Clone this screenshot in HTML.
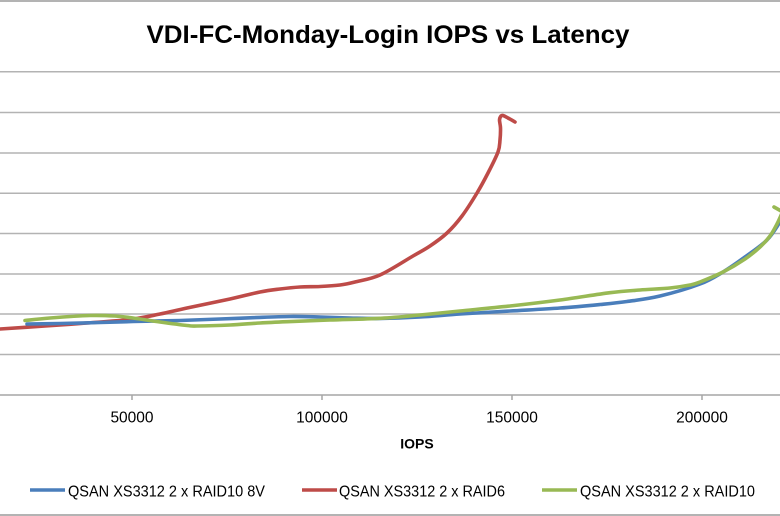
<!DOCTYPE html>
<html>
<head>
<meta charset="utf-8">
<style>
html,body{margin:0;padding:0;background:#fff;}
svg{display:block;}
text{font-family:"Liberation Sans",Arial,sans-serif;}
</style>
</head>
<body>
<svg id="chart" width="780" height="516" viewBox="0 0 780 516" xmlns="http://www.w3.org/2000/svg">
  <rect x="0" y="0" width="780" height="516" fill="#ffffff"/>
  <line x1="0" y1="1" x2="780" y2="1" stroke="#9a9a9a" stroke-width="1.5"/>
  <line x1="0" y1="515" x2="780" y2="515" stroke="#9a9a9a" stroke-width="1.5"/>

  <text x="388" y="43" font-size="25" font-weight="bold" text-anchor="middle" textLength="483" lengthAdjust="spacingAndGlyphs" fill="#000">VDI-FC-Monday-Login IOPS vs Latency</text>

  <g stroke="#b3b3b3" stroke-width="1.5">
    <line x1="0" y1="71.8" x2="780" y2="71.8"/>
    <line x1="0" y1="112.5" x2="780" y2="112.5"/>
    <line x1="0" y1="153" x2="780" y2="153"/>
    <line x1="0" y1="193.3" x2="780" y2="193.3"/>
    <line x1="0" y1="233.5" x2="780" y2="233.5"/>
    <line x1="0" y1="274" x2="780" y2="274"/>
    <line x1="0" y1="314" x2="780" y2="314"/>
    <line x1="0" y1="354.5" x2="780" y2="354.5"/>
  </g>
  <line x1="0" y1="395" x2="780" y2="395" stroke="#a6a6a6" stroke-width="1.5"/>
  <g stroke="#a6a6a6" stroke-width="1.5">
    <line x1="132" y1="395" x2="132" y2="400"/>
    <line x1="322" y1="395" x2="322" y2="400"/>
    <line x1="512" y1="395" x2="512" y2="400"/>
    <line x1="702" y1="395" x2="702" y2="400"/>
  </g>
  <g font-size="15.5" fill="#000" text-anchor="middle">
    <text x="132" y="422.7">50000</text>
    <text x="322" y="422.7">100000</text>
    <text x="512" y="422.7">150000</text>
    <text x="702" y="422.7">200000</text>
  </g>
  <text x="417" y="448.5" font-size="14" font-weight="bold" text-anchor="middle" fill="#000">IOPS</text>

  <g id="series" fill="none" stroke-width="3.6" stroke-linejoin="round" stroke-linecap="round">
    <polyline stroke="#be4b48" points="0,329 45,326 87,323 130,319.5 160,314 187,308 230,299 260,292 280,289 300,287 320,286.5 340,285 355,282 380,275 413,256 430,246 447,233 462,216 477,193 488,173 498,152 500,140 500.5,128 499.5,120 501,116 503,115.5 508,118 515,122"/>
    <polyline stroke="#4a7ebb" points="27,324 60,323.5 100,322.5 133,321.5 180,320.5 220,319 253,317.7 290,316.5 320,317 350,318 380,318.5 420,317 460,314 510,311 560,308 600,304.5 627,301.5 660,296 700,284 723,272 745,257 767,240 780,222 785,214"/>
    <polyline stroke="#98b954" points="25,320.5 50,318 90,315.5 115,316 133,318 160,322 187,325.5 197,326 230,325 260,323 287,321.7 330,320 380,318.3 420,315 460,311 510,306 560,300 610,292.7 640,290 670,288 690,285 700,282 723,272 745,259 760,247 770,236 777,224 782,213"/>
    <polyline stroke="#98b954" points="774,207 782,211.5"/>
  </g>

  <g stroke-width="3.6" stroke-linecap="butt">
    <line x1="30" y1="490" x2="65" y2="490" stroke="#4a7ebb"/>
    <line x1="302" y1="490" x2="337" y2="490" stroke="#be4b48"/>
    <line x1="542" y1="490" x2="577" y2="490" stroke="#98b954"/>
  </g>
  <g font-size="16" fill="#000">
    <text x="68" y="496.5" textLength="197" lengthAdjust="spacingAndGlyphs">QSAN XS3312 2 x RAID10 8V</text>
    <text x="339" y="496.5" textLength="166" lengthAdjust="spacingAndGlyphs">QSAN XS3312 2 x RAID6</text>
    <text x="580" y="496.5" textLength="175" lengthAdjust="spacingAndGlyphs">QSAN XS3312 2 x RAID10</text>
  </g>
</svg>
<script>
(function(){
  try{
    var NS="http://www.w3.org/2000/svg";
    var pls=document.querySelectorAll("#series polyline");
    for(var i=0;i<pls.length;i++){
      var pl=pls[i];
      var raw=pl.getAttribute("points").trim().split(/\s+/);
      var p=raw.map(function(s){var a=s.split(",");return [parseFloat(a[0]),parseFloat(a[1])];});
      if(p.length<3) continue;
      var d="M"+p[0][0]+","+p[0][1];
      for(var k=0;k<p.length-1;k++){
        var p0=p[k>0?k-1:0],p1=p[k],p2=p[k+1],p3=p[k+2<p.length?k+2:p.length-1];
        var c1x=p1[0]+(p2[0]-p0[0])/6,c1y=p1[1]+(p2[1]-p0[1])/6;
        var c2x=p2[0]-(p3[0]-p1[0])/6,c2y=p2[1]-(p3[1]-p1[1])/6;
        d+=" C"+c1x.toFixed(2)+","+c1y.toFixed(2)+" "+c2x.toFixed(2)+","+c2y.toFixed(2)+" "+p2[0]+","+p2[1];
      }
      var path=document.createElementNS(NS,"path");
      path.setAttribute("d",d);
      path.setAttribute("stroke",pl.getAttribute("stroke"));
      pl.parentNode.replaceChild(path,pl);
    }
  }catch(e){}
})();
</script>
</body>
</html>
